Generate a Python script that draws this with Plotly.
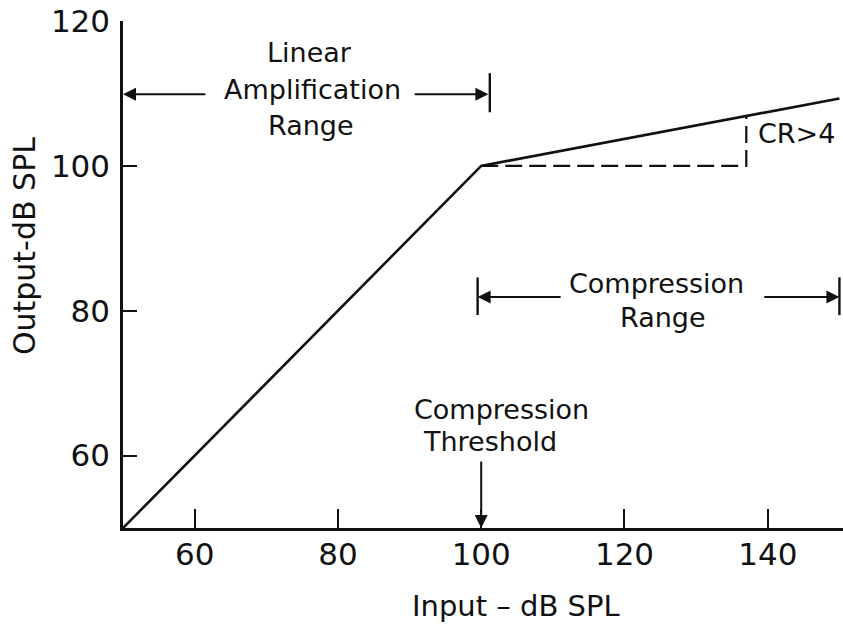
import plotly.graph_objects as go

# data
input_db = [50, 100, 150]
output_db = [50, 100, 109.3]
cr_x = [100, 137, 137]
cr_y = [100, 100, 106.8]

x_ticks = [60, 80, 100, 120, 140]
y_ticks = [60, 80, 100, 120]

FONT = "DejaVu Sans"
INK = "#111111"

fig = go.Figure()
fig.add_trace(go.Scatter(x=input_db, y=output_db, mode="lines",
                         line=dict(color=INK, width=2.6), hoverinfo="skip"))
fig.add_trace(go.Scatter(x=cr_x, y=cr_y, mode="lines",
                         line=dict(color=INK, width=2.2, dash="17px,7px"), hoverinfo="skip"))

ann = []
# text labels (text, x, y, xanchor)
labels = [
    ("Linear", 76.1, 115.7, "center"),
    ("Amplification", 76.4, 110.5, "center"),
    ("Range", 76.2, 105.6, "center"),
    ("Compression", 124.4, 83.8, "center"),
    ("Range", 125.4, 79.1, "center"),
    ("Compression", 102.9, 66.3, "center"),
    ("Threshold", 101.2, 61.9, "center"),
    ("CR>4", 138.4, 104.5, "left"),
]
for t, x, y, xa in labels:
    ann.append(dict(text=t, x=x, y=y, xref="x", yref="y", xanchor=xa, yanchor="middle",
                    showarrow=False, font=dict(family=FONT, size=27, color=INK)))

# arrows (head x, head y, tail x, tail y)
arrows = [
    (50, 109.9, 61.7, 109.9),
    (101.0, 109.9, 90.5, 109.9),
    (99.5, 81.9, 111.3, 81.9),
    (150, 81.9, 139.3, 81.9),
    (100, 50, 100, 59.4),
]
for hx, hy, tx, ty in arrows:
    ann.append(dict(text="", x=hx, y=hy, ax=tx, ay=ty, xref="x", yref="y",
                    axref="x", ayref="y", showarrow=True, arrowhead=2,
                    arrowsize=1.3, arrowwidth=2, arrowcolor=INK, standoff=0))

# axis titles
ann.append(dict(text="Input – dB SPL", x=0.546, y=-0.154, xref="paper", yref="paper",
                xanchor="center", yanchor="middle", showarrow=False,
                font=dict(family=FONT, size=29, color=INK)))
ann.append(dict(text="Output-dB SPL", x=-0.1375, y=0.556, xref="paper", yref="paper",
                xanchor="center", yanchor="middle", showarrow=False, textangle=-90,
                font=dict(family=FONT, size=30, color=INK)))

# end bars
shapes = []
for bx, y0, y1 in [(101.2, 107.4, 112.8), (99.5, 79.4, 84.6), (150, 79.4, 84.6)]:
    shapes.append(dict(type="line", x0=bx, x1=bx, y0=y0, y1=y1, xref="x", yref="y",
                       line=dict(color=INK, width=2.4)))

fig.update_layout(
    width=843, height=627,
    margin=dict(l=123, r=0, t=21, b=99),
    paper_bgcolor="white", plot_bgcolor="white",
    showlegend=False,
    annotations=ann, shapes=shapes,
    font=dict(family=FONT, color=INK),
)
fig.update_xaxes(range=[50, 150.5], tickvals=x_ticks, ticktext=[str(v) for v in x_ticks],
                 ticks="inside", ticklen=19, tickwidth=2, tickcolor=INK,
                 showline=True, linecolor=INK, linewidth=2.5, showgrid=False, zeroline=False,
                 tickfont=dict(family=FONT, size=31, color=INK), ticklabelstandoff=-3)
fig.update_yaxes(range=[50, 120], tickvals=y_ticks, ticktext=[str(v) for v in y_ticks],
                 ticks="inside", ticklen=14, tickwidth=2, tickcolor=INK,
                 showline=True, linecolor=INK, linewidth=2.5, showgrid=False, zeroline=False,
                 tickfont=dict(family=FONT, size=31, color=INK), ticklabelstandoff=4)

fig.write_html("out.html", config={"displayModeBar": False},
               post_script="document.body.style.margin='0';document.body.style.overflow='hidden';")
